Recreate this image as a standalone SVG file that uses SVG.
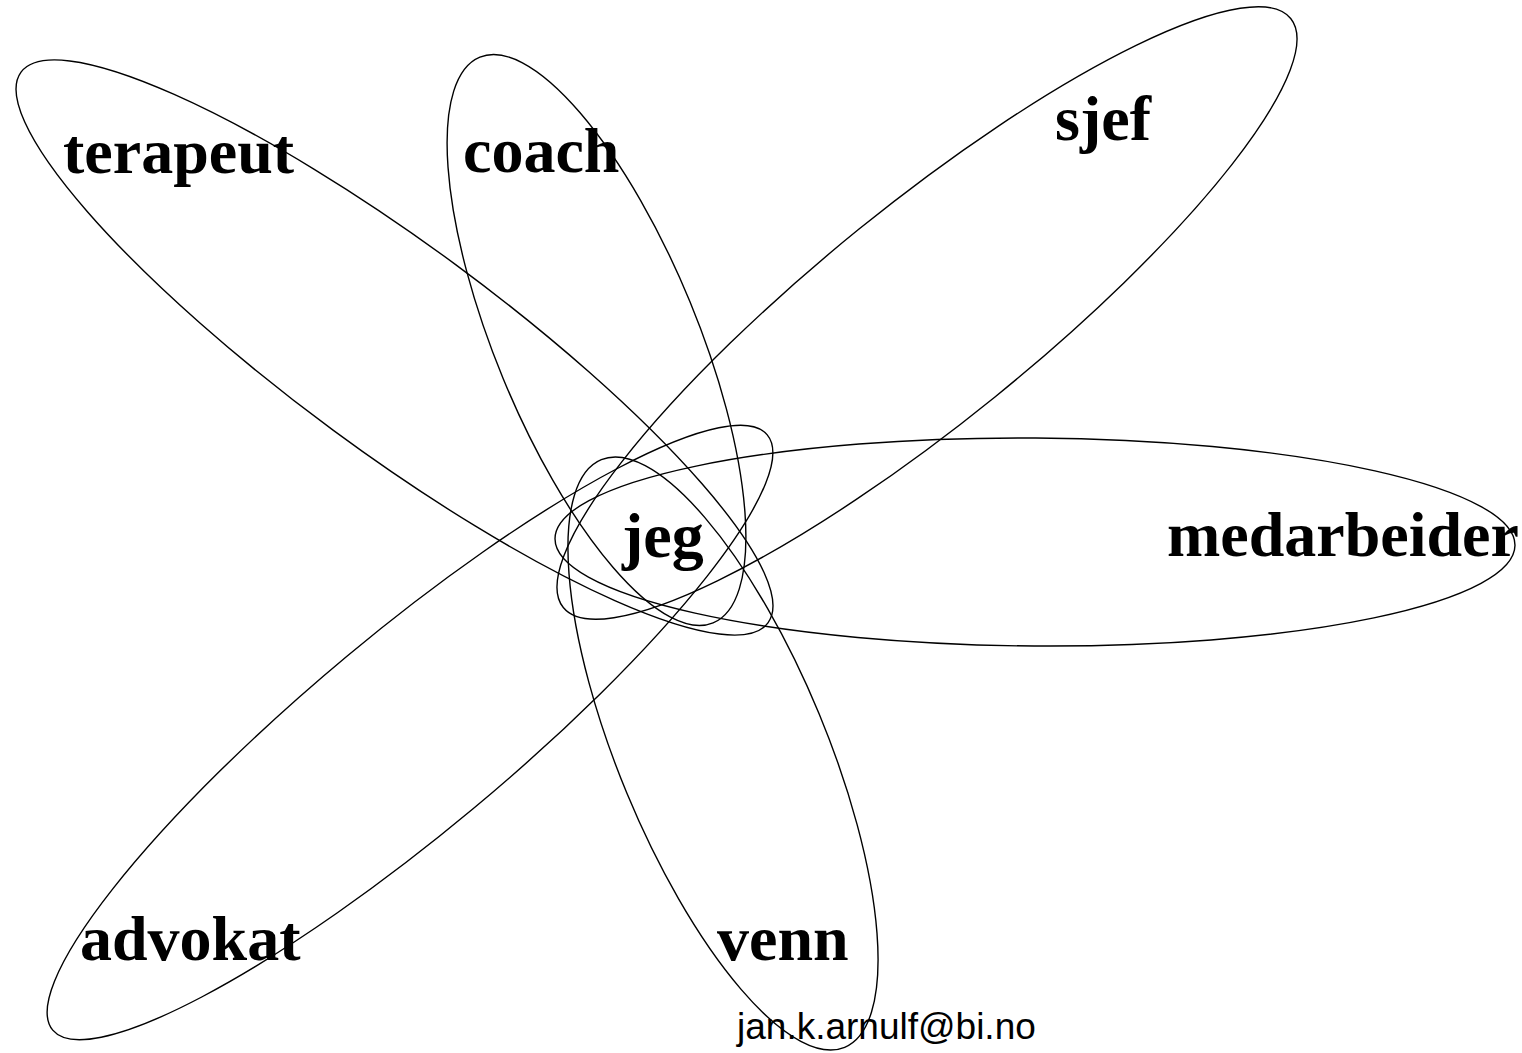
<svg xmlns="http://www.w3.org/2000/svg" width="1522" height="1053" viewBox="0 0 1522 1053">
<style>
.petal{fill:none;stroke:#000;stroke-width:1.4}
.lbl{font-family:"Liberation Serif","Times New Roman",serif;font-weight:bold;font-size:64px;fill:#000}
.mail{font-family:"Liberation Sans",Arial,sans-serif;font-size:37px;fill:#000}
</style>
<rect width="1522" height="1053" fill="#fff"/>
<g id="terapeut">
<ellipse class="petal" cx="394.5" cy="347.5" rx="464" ry="103" transform="rotate(36.4 394.5 347.5)"/>
<text class="lbl" x="63" y="173">terapeut</text>
</g>
<g id="coach">
<ellipse class="petal" cx="596.5" cy="340" rx="306" ry="101" transform="rotate(67.6 596.5 340)"/>
<text class="lbl" x="463" y="172">coach</text>
</g>
<g id="sjef">
<ellipse class="petal" cx="927" cy="313" rx="468" ry="108" transform="rotate(-39 927 313)"/>
<text class="lbl" x="1055" y="140">sjef</text>
</g>
<g id="medarbeider">
<ellipse class="petal" cx="1035" cy="542" rx="480" ry="104" transform="rotate(0.4 1035 542)"/>
<text class="lbl" x="1167" y="556">medarbeider</text>
</g>
<g id="advokat">
<ellipse class="petal" cx="410" cy="732.5" rx="465" ry="99" transform="rotate(-39.8 410 732.5)"/>
<text class="lbl" x="80" y="960">advokat</text>
</g>
<g id="venn">
<ellipse class="petal" cx="723" cy="753.5" rx="318" ry="104" transform="rotate(67.5 723 753.5)"/>
<text class="lbl" x="717" y="960">venn</text>
</g>
<g id="jeg">
<text class="lbl" x="622" y="557">jeg</text>
</g>
<g id="connectors"></g>
<text class="mail" x="737" y="1039">jan.k.arnulf@bi.no</text>
</svg>
